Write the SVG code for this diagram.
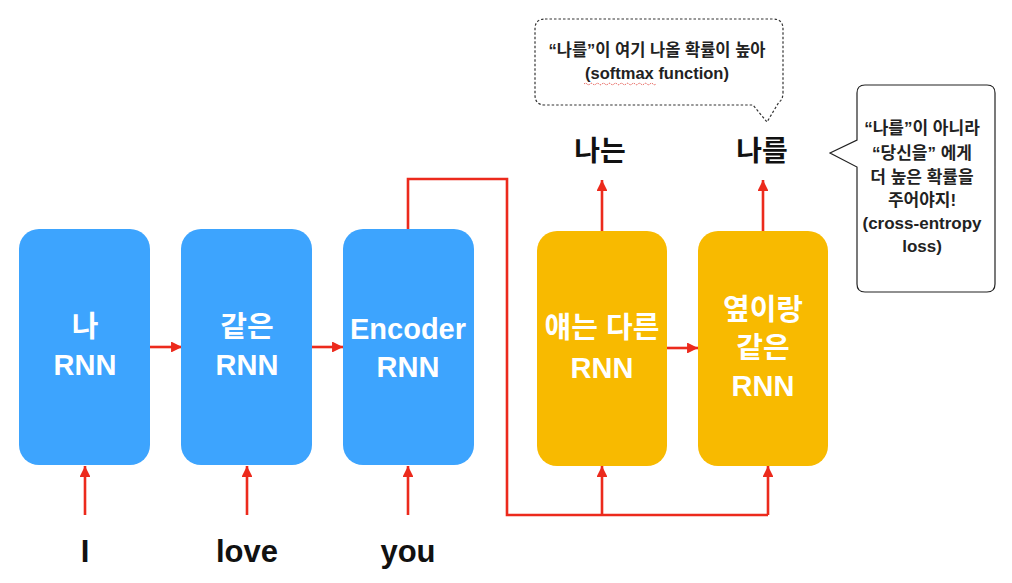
<svg xmlns="http://www.w3.org/2000/svg" width="1012" height="583" viewBox="0 0 1012 583">
<defs>
<marker id="ah" viewBox="0 0 10 10" refX="10" refY="5" markerWidth="4.2" markerHeight="4.2" orient="auto" markerUnits="strokeWidth">
<path d="M0,0 L10,5 L0,10 z" fill="#EC2A1C"/>
</marker>
<style>
.enc{fill:#3DA4FE}
.dec{fill:#F8BA00}
.bt{font-family:"Liberation Sans","Noto Sans CJK KR",sans-serif;font-weight:bold;fill:#ffffff;text-anchor:middle;font-size:29px}
.lb{font-family:"Liberation Sans","Noto Sans CJK KR",sans-serif;font-weight:bold;fill:#111;text-anchor:middle}
.ct{font-family:"Liberation Sans","Noto Sans CJK KR",sans-serif;font-weight:bold;fill:#222;text-anchor:middle}
.cn{fill:none;stroke:#EC2A1C;stroke-width:2.6}
</style>
</defs>
<rect width="1012" height="583" fill="#ffffff"/>

<g id="connectors">
<line class="cn" x1="85" y1="515" x2="85" y2="466" marker-end="url(#ah)"/>
<line class="cn" x1="247" y1="515" x2="247" y2="466" marker-end="url(#ah)"/>
<line class="cn" x1="408" y1="515" x2="408" y2="466" marker-end="url(#ah)"/>
<line class="cn" x1="150" y1="347" x2="182" y2="347" marker-end="url(#ah)"/>
<line class="cn" x1="312" y1="347" x2="343" y2="347" marker-end="url(#ah)"/>
<polyline class="cn" points="408,230 408,179 507,179 507,515 768,515"/>
<line class="cn" x1="602" y1="515" x2="602" y2="466" marker-end="url(#ah)"/>
<line class="cn" x1="768" y1="515" x2="768" y2="466" marker-end="url(#ah)"/>
<line class="cn" x1="667" y1="348" x2="698" y2="348" marker-end="url(#ah)"/>
<line class="cn" x1="602" y1="231" x2="602" y2="180" marker-end="url(#ah)"/>
<line class="cn" x1="763" y1="231" x2="763" y2="180" marker-end="url(#ah)"/>
</g>

<g id="node-na">
<rect class="enc" x="19" y="229" width="131" height="236" rx="20"/>
<text class="bt" x="85" y="337">나</text>
<text class="bt" x="85" y="375">RNN</text>
</g>
<g id="node-gateun">
<rect class="enc" x="181" y="229" width="131" height="236" rx="20"/>
<text class="bt" x="247" y="337">같은</text>
<text class="bt" x="247" y="375">RNN</text>
</g>
<g id="node-encoder">
<rect class="enc" x="343" y="229" width="131" height="236" rx="20"/>
<text class="bt" x="408" y="339">Encoder</text>
<text class="bt" x="408" y="377">RNN</text>
</g>
<g id="node-dec1">
<rect class="dec" x="537" y="231" width="130" height="235" rx="20"/>
<text class="bt" x="602" y="338">얘는 다른</text>
<text class="bt" x="602" y="378">RNN</text>
</g>
<g id="node-dec2">
<rect class="dec" x="698" y="231" width="130" height="235" rx="20"/>
<text class="bt" x="763" y="320">옆이랑</text>
<text class="bt" x="763" y="358">같은</text>
<text class="bt" x="763" y="396">RNN</text>
</g>

<g id="inputs">
<text class="lb" x="85" y="562" font-size="31">I</text>
<text class="lb" x="247" y="562" font-size="31">love</text>
<text class="lb" x="408" y="562" font-size="31">you</text>
</g>
<g id="outputs">
<text class="lb" x="600" y="161" font-size="28">나는</text>
<text class="lb" x="762" y="161" font-size="28">나를</text>
</g>

<g id="callout-softmax">
<path d="M545,19 H773 Q783,19 783,29 V92 Q783,100 779,102 L767,122 L753,105 H545 Q535,105 535,95 V29 Q535,19 545,19 Z" fill="#ffffff" stroke="#333" stroke-width="1.2" stroke-dasharray="2.5,2"/>
<text class="ct" x="657" y="56" font-size="16.5">“나를”이 여기 나올 확률이 높아</text>
<text class="ct" x="657" y="79" font-size="16.5">(softmax function)</text>
<path d="M584,84 q1.5,-1.5 3,0 t3,0 t3,0 t3,0 t3,0 t3,0 t3,0 t3,0 t3,0 t3,0 t3,0 t3,0 t3,0 t3,0 t3,0 t3,0 t3,0 t3,0 t3,0 t3,0 t3,0 t3,0 t3,0 t3,0" fill="none" stroke="#E0342A" stroke-width="1" stroke-dasharray="1,1"/>
</g>

<g id="callout-crossentropy">
<path d="M865,85 H987 Q995,85 995,93 V284 Q995,292 987,292 H865 Q857,292 857,284 V167 L830,153 L857,140 V93 Q857,85 865,85 Z" fill="#ffffff" stroke="#222" stroke-width="1.2"/>
<text class="ct" x="922" y="134" font-size="17">“나를”이 아니라</text>
<text class="ct" x="922" y="159" font-size="17">“당신을” 에게</text>
<text class="ct" x="922" y="183" font-size="17">더 높은 확률을</text>
<text class="ct" x="922" y="206" font-size="17">주어야지!</text>
<text class="ct" x="922" y="229" font-size="17">(cross-entropy</text>
<text class="ct" x="922" y="252" font-size="17">loss)</text>
</g>
</svg>
